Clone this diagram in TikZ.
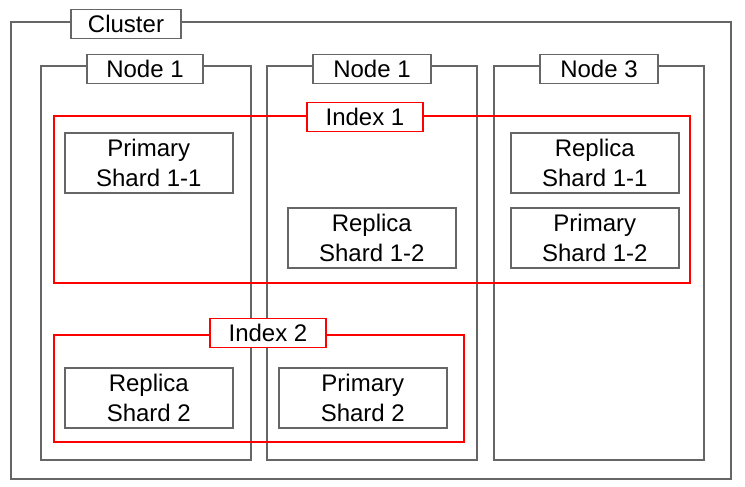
\documentclass[tikz,border=0pt]{standalone}
\usepackage{fontspec}
\setmainfont{Liberation Sans}
\usepackage{xcolor}
\definecolor{framegray}{RGB}{102,102,102}
\definecolor{indexred}{RGB}{255,0,0}
\usetikzlibrary{positioning}
\tikzset{
  boxframe/.style ={rectangle,draw=framegray,line width=1.6pt,inner sep=0pt,anchor=north west},
  indexframe/.style={rectangle,draw=indexred,line width=1.6pt,inner sep=0pt,anchor=north west},
  shardbox/.style ={rectangle,draw=framegray,line width=1.6pt,inner sep=0pt,anchor=north west,
                    align=center,minimum width=168pt,minimum height=60pt,
                    font=\fontsize{24}{30}\selectfont},
  frametag/.style ={rectangle,draw=framegray,line width=1.6pt,fill=white,inner sep=0pt,
                    minimum height=29pt,font=\fontsize{24}{28}\selectfont},
  indextag/.style ={frametag,draw=indexred},
}
\begin{document}
\begin{tikzpicture}[x=1pt,y=-1pt]
  \useasboundingbox[fill=white] (0,0) rectangle (745,487);
  % cluster and its nodes
  \node[boxframe,minimum width=720pt,minimum height=457pt] (cluster) at (10,21) {};
  \foreach \x/\id in {40/a, 266/b, 493/c}{
    \node[boxframe,minimum width=210pt,minimum height=394pt] (node\id) at (\x,65) {};
  }
  % shards
  \node[shardbox] (p11) at (64,132) {Primary\\Shard 1-1};
  \node[shardbox] (r12) at (287,207) {Replica\\Shard 1-2};
  \node[shardbox] (r11) at (510,132) {Replica\\Shard 1-1};
  \node[shardbox] (p12) at (510,207) {Primary\\Shard 1-2};
  \node[shardbox] (r2) at (64,367) {Replica\\Shard 2};
  \node[shardbox] (p2) at (278,367) {Primary\\Shard 2};
  % indices
  \node[indexframe,minimum width=636pt,minimum height=167pt] (index1) at (53,115) {};
  \node[indexframe,minimum width=410pt,minimum height=107pt] (index2) at (53,334) {};
  % tags
  \node[frametag,minimum width=110pt] (clustertag) at (126,24) {Cluster};
  \node[frametag,minimum width=116pt] (tagA) at (145,69) {Node 1};
  \node[frametag,minimum width=118pt] (tagB) at (372,69) {Node 1};
  \node[frametag,minimum width=118pt] (tagC) at (599,69) {Node 3};
  \node[indextag,minimum width=116pt] (index1tag) at (365,117) {Index 1};
  \node[indextag,minimum width=116pt] (index2tag) at (268,333) {Index 2};
\end{tikzpicture}
\end{document}
